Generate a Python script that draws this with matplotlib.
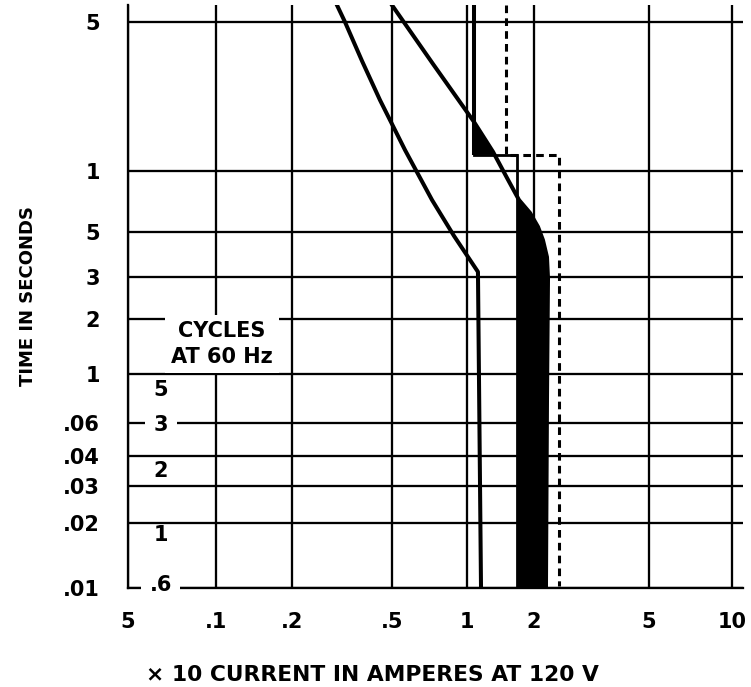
import numpy as np
import matplotlib
matplotlib.use("Agg")
import matplotlib.pyplot as plt

plt.rcParams["font.family"] = ["DejaVu Sans"]
plt.rcParams["font.weight"] = "bold"

# ---------------------------------------------------------------- ticks ----
current_ticks = [0.05, 0.1, 0.2, 0.5, 1, 2, 5, 10]
current_tick_labels = ["5", ".1", ".2", ".5", "1", "2", "5", "10"]
time_ticks = [0.01, 0.02, 0.03, 0.04, 0.06, 0.1, 0.2, 0.3, 0.5, 1, 5]
time_tick_labels = [".01", ".02", ".03", ".04", ".06", "1", "2", "3", "5", "1", "5"]

# cycles at 60 Hz, written down the left edge of the grid
cycle_labels = ["5", "3", "2", "1", ".6"]
cycle_times = [0.0846, 0.0585, 0.0347, 0.0176, 0.0103]

# ----------------------------------------------------------------- data ----
# left-hand time-current curve
fuse_current = [0.302, 0.325, 0.380, 0.448, 0.564, 0.724, 0.887, 1.12, 1.156]
fuse_time = [6.0, 5.0, 3.28, 2.15, 1.254, 0.719, 0.478, 0.318, 0.01]

# breaker: thermal curve running into the right edge of the trip band
breaker_current = [0.5, 0.730, 1.075, 1.309, 1.513, 1.713, 1.919, 2.065,
                   2.148, 2.218, 2.236, 2.218, 2.20]
breaker_time = [6.0, 3.18, 1.70, 1.23, 0.924, 0.719, 0.621, 0.530,
                0.456, 0.376, 0.297, 0.0762, 0.01]

# breaker: minimum trip boundary (solid step)
breaker_min_current = [1.075, 1.075, 1.68, 1.68]
breaker_min_time = [6.0, 1.19, 1.19, 0.01]

# outer limit (dashed step)
limit_current = [1.497, 1.497, 2.44, 2.44]
limit_time = [6.0, 1.19, 1.19, 0.0102]

# --------------------------------------------------------------- layout ----
W, H = 751, 687
AX_L, AX_R, AX_T, AX_B = 128, 743, 5, 588

# The printed log grid is hand ruled, so its decades are not quite even:
# each ruled line is pinned to the pixel row/column it sits on.
x_rule_px = [128, 216, 292, 392, 467, 534, 649, 732]
y_rule_px = [588, 523, 486, 456, 423, 374, 319, 277, 232, 171, 22]


def ruled_scale(values, positions):
    lv = np.log10(np.asarray(values, float))
    pos = np.asarray(positions, float)
    lo = (pos[1] - pos[0]) / (lv[1] - lv[0])
    hi = (pos[-1] - pos[-2]) / (lv[-1] - lv[-2])
    lv = np.r_[lv[0] - 4, lv, lv[-1] + 4]
    pos = np.r_[pos[0] - 4 * lo, pos, pos[-1] + 4 * hi]

    def forward(v):
        v = np.clip(np.asarray(v, float), 1e-12, None)
        return np.interp(np.log10(v), lv, pos)

    def inverse(p):
        return 10 ** np.interp(np.asarray(p, float), pos, lv)

    return forward, inverse


fx, ix = ruled_scale(current_ticks, x_rule_px)
fy, iy = ruled_scale(time_ticks, [-p for p in y_rule_px])

fig = plt.figure(figsize=(W / 100, H / 100), dpi=100)
ax = fig.add_axes([AX_L / W, 1 - AX_B / H, (AX_R - AX_L) / W, (AX_B - AX_T) / H])
ax.set_xscale("function", functions=(fx, ix))
ax.set_yscale("function", functions=(fy, iy))
ax.set_xlim(current_ticks[0], float(ix(AX_R)))
ax.set_ylim(time_ticks[0], float(iy(-AX_T)))

GRID_LW = 1.65
ax.set_xticks(current_ticks, current_tick_labels)
ax.set_yticks(time_ticks, time_tick_labels)
ax.minorticks_off()
ax.grid(True, color="black", linewidth=GRID_LW)
ax.tick_params(length=0, labelsize=15)
ax.tick_params(axis="x", pad=17)
ax.tick_params(axis="y", pad=20)
for side in ("top", "right"):
    ax.spines[side].set_visible(False)
for side in ("left", "bottom"):
    ax.spines[side].set_linewidth(GRID_LW)
    ax.spines[side].set_color("black")


# --------------------------------------------------------- shaded areas ----
def crossing_time(xs, ys, x0):
    """Time at which a falling curve reaches current x0 (log-log)."""
    return 10 ** np.interp(np.log10(x0), np.log10(xs), np.log10(ys))


def crossing_current(xs, ys, t0):
    """Current at which a falling curve reaches time t0 (log-log)."""
    lx = np.log10(xs)
    ly = np.log10(ys)
    return 10 ** np.interp(np.log10(t0), ly[::-1], lx[::-1])


bx = np.array(breaker_current)
bt = np.array(breaker_time)
step_x_hi, step_t = breaker_min_current[0], breaker_min_time[1]
step_x_lo = breaker_min_current[2]

# small wedge above the step
upper = (bt <= bt[2]) & (bt > step_t)
wx = np.r_[bx[upper], crossing_current(bx[:6], bt[:6], step_t), step_x_hi]
wt = np.r_[bt[upper], step_t, step_t]
ax.fill(wx, wt, color="black", lw=0, zorder=2)

# trip band below the step
k = 5
t_top = crossing_time(bx[3:6], bt[3:6], step_x_lo)
band_x = np.r_[step_x_lo, bx[k:], step_x_lo]
band_t = np.r_[t_top, bt[k:], bt[-1]]
ax.fill(band_x, band_t, color="black", lw=0, zorder=2)

# ---------------------------------------------------------------- lines ----
CURVE_LW = 2.9
ax.plot(fuse_current, fuse_time, color="black", lw=CURVE_LW,
        solid_joinstyle="round", zorder=3)
ax.plot(breaker_current, breaker_time, color="black", lw=CURVE_LW,
        solid_joinstyle="round", zorder=3)
ax.plot(breaker_min_current[:2], breaker_min_time[:2], color="black", lw=2.9,
        solid_capstyle="butt", zorder=3)
ax.plot(breaker_min_current[1:], breaker_min_time[1:], color="black", lw=2.0,
        solid_joinstyle="miter", zorder=3)
ax.plot(limit_current, limit_time, color="black", lw=2.2,
        linestyle=(0, (2.5, 1.7)), zorder=3)

# ---------------------------------------------------------------- texts ----
CYCLE_X = 0.0648
on_ruled_line = {"3", ".6"}
for lab, t in zip(cycle_labels, cycle_times):
    box = None
    if lab in on_ruled_line:
        box = dict(boxstyle="square,pad=0.4", fc="white", ec="none")
    ax.text(CYCLE_X, t, lab, ha="center", va="center", fontsize=15,
            fontweight="bold", bbox=box, zorder=4)

ax.text(0.1056, 0.146, "CYCLES\nAT 60 Hz", ha="center", va="center",
        multialignment="center", fontsize=15, fontweight="bold",
        linespacing=1.4,
        bbox=dict(boxstyle="square,pad=0.3", fc="white", ec="none"),
        zorder=4)

fig.text(28 / W, 1 - 296 / H, "TIME IN SECONDS", rotation=90, ha="center",
         va="center", fontsize=13, fontweight="bold")
fig.text(372 / W, 1 - 675 / H, "\u00d7 10 CURRENT IN AMPERES AT 120 V",
         ha="center", va="center", fontsize=15.7, fontweight="bold")

fig.savefig("out.png", dpi=100, facecolor="white")
